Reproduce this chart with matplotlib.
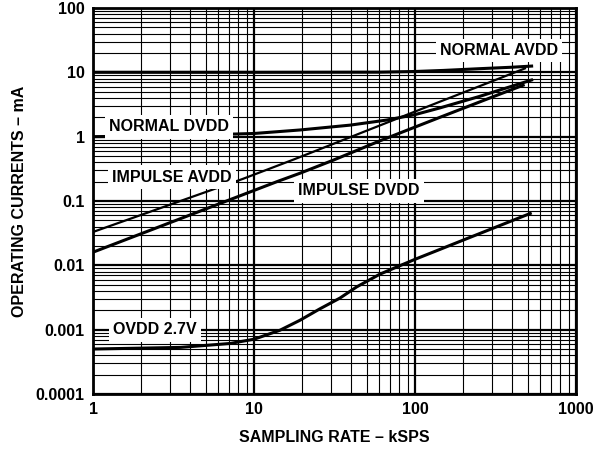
import matplotlib
matplotlib.use("Agg")
import matplotlib.pyplot as plt
from matplotlib.ticker import LogLocator, FixedLocator, NullFormatter

plt.rcParams['font.family'] = ['Liberation Sans', 'DejaVu Sans']
plt.rcParams['font.weight'] = 'bold'

# supply currents vs sampling rate (kSPS, mA)
normal_avdd_x = [1, 10, 60, 100, 150, 254, 400, 530]
normal_avdd_y = [10.0, 10.0, 10.05, 10.3, 10.7, 11.4, 12.0, 12.5]

normal_dvdd_x = [1, 2, 4.6, 10, 19.3, 39.5, 66.6, 100, 143, 250, 530]
normal_dvdd_y = [1.0, 1.02, 1.06, 1.12, 1.27, 1.51, 1.81, 2.2, 2.8, 4.2, 7.6]

impulse_avdd_x = [1, 8.5, 18, 60, 143, 482]
impulse_avdd_y = [0.033, 0.22, 0.45, 1.48, 3.5, 11.5]

impulse_dvdd_x = [1, 13.9, 19.3, 31, 60.5, 143, 300, 470]
impulse_dvdd_y = [0.016, 0.2, 0.27, 0.43, 0.86, 2.0, 4.1, 6.3]

ovdd_x = [1, 3.5, 7.1, 10, 14.5, 19.3, 25.6, 34.2, 43.3, 60.6, 100, 143, 210, 520]
ovdd_y = [0.0005, 0.00053, 0.00061, 0.00071, 0.00098, 0.0014, 0.0021, 0.0031,
          0.0046, 0.0073, 0.0124, 0.0177, 0.026, 0.064]

x_ticks = [1, 10, 100, 1000]
x_tick_labels = ['1', '10', '100', '1000']
y_ticks = [0.0001, 0.001, 0.01, 0.1, 1, 10, 100]
y_tick_labels = ['0.0001', '0.001', '0.01', '0.1', '1', '10', '100']

fig = plt.figure(figsize=(6.02, 4.51), dpi=100)
ax = fig.add_axes([0.1545, 0.1264, 0.8023, 0.8559])
ax.set_xscale('log')
ax.set_yscale('log')
ax.set_xlim(1, 1000)
ax.set_ylim(0.0001, 100)

ax.xaxis.set_major_locator(FixedLocator(x_ticks))
ax.yaxis.set_major_locator(FixedLocator(y_ticks))
ax.set_xticklabels(x_tick_labels)
ax.set_yticklabels(y_tick_labels)
ax.xaxis.set_minor_locator(LogLocator(base=10, subs=range(2, 10)))
ax.yaxis.set_minor_locator(LogLocator(base=10, subs=range(2, 10)))
ax.xaxis.set_minor_formatter(NullFormatter())
ax.yaxis.set_minor_formatter(NullFormatter())

ax.grid(True, which='major', color='black', linewidth=1.6, zorder=1)
ax.grid(True, which='minor', color='black', linewidth=0.8, zorder=1)
ax.set_axisbelow(True)
ax.tick_params(which='both', length=0, labelsize=11.5, pad=6)
for s in ax.spines.values():
    s.set_linewidth(2)

ax.plot(normal_avdd_x, normal_avdd_y, color='black', lw=2.2, zorder=3)
ax.plot(normal_dvdd_x, normal_dvdd_y, color='black', lw=2.2, zorder=3)
ax.plot(impulse_avdd_x, impulse_avdd_y, color='black', lw=1.6, zorder=3)
ax.plot(impulse_dvdd_x, impulse_dvdd_y, color='black', lw=2.2, zorder=3)
ax.plot(ovdd_x, ovdd_y, color='black', lw=2.2, zorder=3)

box = dict(facecolor='white', edgecolor='none', pad=3)
labels = [
    ('NORMAL AVDD', 0.841, 0.889),
    ('NORMAL DVDD', 0.157, 0.692),
    ('IMPULSE AVDD', 0.164, 0.562),
    ('IMPULSE DVDD', 0.551, 0.526),
    ('OVDD 2.7V', 0.128, 0.166),
]
for txt, xf, yf in labels:
    ax.text(xf, yf, txt, transform=ax.transAxes, ha='center', va='center',
            fontsize=11.5, fontweight='bold', bbox=box, zorder=4)

ax.set_xlabel('SAMPLING RATE – kSPS', fontsize=11.5, fontweight='bold', labelpad=9)
ax.set_ylabel('OPERATING CURRENTS – mA', fontsize=11.5, fontweight='bold', labelpad=6)

fig.savefig('out.png', dpi=100)
